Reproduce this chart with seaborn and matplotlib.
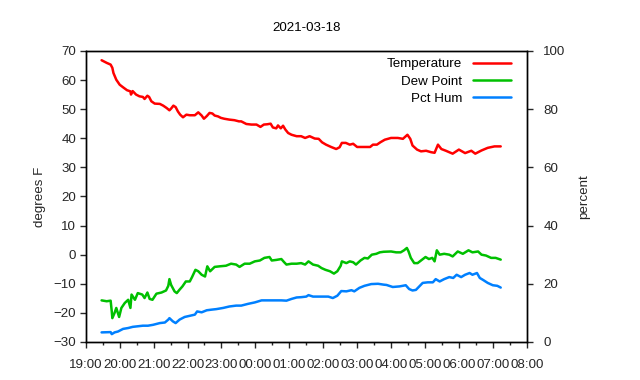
import pandas as pd
import matplotlib
matplotlib.use('Agg')
import matplotlib.pyplot as plt
import matplotlib.dates as mdates
import seaborn as sns

# ── Data (night of 2021-03-18) ───────────────────────────────────
temp_time = [
    "19:28", "19:37", "19:44", "19:47", "19:49", "19:54", "20:00", "20:06",
    "20:13", "20:19", "20:20", "20:23", "20:29", "20:35", "20:41", "20:44",
    "20:49", "20:52", "20:56", "21:02", "21:11", "21:17", "21:23", "21:28",
    "21:31", "21:35", "21:39", "21:43", "21:47", "21:52", "21:58", "22:04",
    "22:13", "22:19", "22:25", "22:29", "22:34", "22:39", "22:44", "22:48",
    "22:54", "22:59", "23:05", "23:14", "23:23", "23:31", "23:35", "23:44",
    "23:53", "00:02", "00:09", "00:15", "00:21", "00:27", "00:31", "00:37",
    "00:40", "00:45", "00:49", "00:53", "00:58", "01:04", "01:13", "01:21",
    "01:28", "01:36", "01:45", "01:52", "01:58", "02:05", "02:14", "02:23",
    "02:29", "02:33", "02:40", "02:47", "02:53", "03:00", "03:07", "03:16",
    "03:23", "03:28", "03:35", "03:41", "03:49", "04:00", "04:12", "04:21",
    "04:29", "04:34", "04:38", "04:46", "04:53", "05:02", "05:11", "05:17",
    "05:23", "05:29", "05:37", "05:49", "06:00", "06:11", "06:22", "06:29",
    "06:40", "06:51", "07:03", "07:14",
]
temp_f = [
    66.8, 65.9, 65.3, 64.2, 62.4, 60.1, 58.4, 57.5,
    56.5, 56.1, 55.0, 56.2, 55.0, 54.4, 54.2, 53.5,
    54.6, 54.2, 52.7, 51.9, 51.8, 51.2, 50.4, 49.6,
    50.2, 51.2, 50.7, 49.2, 48.1, 47.2, 48.1, 47.9,
    47.9, 48.9, 47.8, 46.7, 47.6, 48.7, 48.5, 47.8,
    47.5, 47.0, 46.7, 46.4, 46.2, 45.8, 45.8, 44.9,
    44.7, 44.7, 43.9, 44.7, 44.8, 45.0, 43.7, 43.4,
    44.4, 43.4, 44.3, 43.0, 41.8, 41.2, 40.7, 40.7,
    40.1, 40.7, 39.9, 39.8, 38.6, 37.8, 37.0, 36.3,
    36.9, 38.4, 38.4, 37.8, 38.1, 37.0, 37.0, 37.0,
    37.0, 37.8, 37.8, 38.6, 39.5, 40.1, 40.1, 39.8,
    41.2, 39.8, 37.5, 36.1, 35.5, 35.7, 35.2, 35.0,
    37.8, 36.3, 35.7, 34.7, 36.1, 34.9, 35.7, 34.7,
    35.8, 36.7, 37.2, 37.2,
]

dew_time = [
    "19:28", "19:37", "19:44", "19:46", "19:47", "19:51", "19:54", "19:59",
    "20:03", "20:09", "20:15", "20:19", "20:21", "20:27", "20:32", "20:40",
    "20:44", "20:49", "20:53", "20:58", "21:05", "21:14", "21:22", "21:26",
    "21:28", "21:31", "21:37", "21:41", "21:46", "21:51", "21:57", "22:04",
    "22:08", "22:14", "22:19", "22:25", "22:31", "22:35", "22:40", "22:48",
    "22:57", "23:08", "23:17", "23:26", "23:32", "23:41", "23:50", "23:59",
    "00:08", "00:16", "00:25", "00:29", "00:37", "00:46", "00:51", "00:55",
    "01:04", "01:13", "01:21", "01:28", "01:34", "01:42", "01:51", "01:57",
    "02:04", "02:12", "02:19", "02:25", "02:31", "02:33", "02:41", "02:47",
    "02:53", "02:58", "03:06", "03:13", "03:19", "03:26", "03:34", "03:40",
    "03:47", "04:00", "04:09", "04:17", "04:23", "04:28", "04:31", "04:35",
    "04:41", "04:47", "04:53", "05:01", "05:07", "05:13", "05:17", "05:21",
    "05:26", "05:34", "05:43", "05:49", "05:58", "06:07", "06:17", "06:24",
    "06:34", "06:40", "06:48", "06:57", "07:05", "07:14",
]
dew_f = [
    -15.7, -16.0, -15.8, -19.5, -21.8, -20.0, -18.3, -21.4,
    -18.3, -16.6, -15.5, -18.3, -13.7, -15.5, -13.2, -13.7,
    -14.9, -13.0, -15.2, -15.5, -13.4, -13.0, -12.3, -10.7,
    -8.4, -10.4, -12.6, -13.2, -12.0, -10.9, -9.2, -9.2,
    -7.7, -5.2, -5.7, -6.9, -7.5, -4.0, -5.7, -4.2,
    -4.0, -3.8, -3.1, -3.4, -4.2, -3.1, -3.1, -2.3,
    -2.0, -1.1, -0.8, -2.0, -1.8, -1.5, -2.6, -3.4,
    -3.1, -3.1, -2.9, -3.4, -2.3, -3.4, -3.8, -4.6,
    -5.2, -5.7, -6.5, -5.7, -3.8, -2.3, -2.9, -2.3,
    -2.6, -3.4, -2.0, -1.1, -1.3, 0.0, 0.3, 0.8,
    1.0, 1.1, 0.8, 0.8, 1.5, 2.3, 1.1, -1.1,
    -2.9, -2.9, -2.0, -0.8, -1.5, -1.1, -2.3, 1.5,
    0.0, 0.3, 0.0, -0.6, 1.1, 0.3, 1.5, 0.8,
    1.1, 0.0, -0.3, -1.1, -1.1, -1.7,
]

hum_time = [
    "19:28", "19:44", "19:46", "19:51", "19:57", "20:06", "20:15", "20:23",
    "20:32", "20:41", "20:50", "20:59", "21:11", "21:20", "21:26", "21:28",
    "21:34", "21:39", "21:46", "21:55", "22:04", "22:13", "22:17", "22:25",
    "22:34", "22:42", "22:51", "23:03", "23:14", "23:26", "23:35", "23:47",
    "23:59", "00:11", "00:22", "00:34", "00:46", "00:55", "01:04", "01:13",
    "01:21", "01:30", "01:34", "01:42", "01:51", "02:00", "02:09", "02:17",
    "02:25", "02:32", "02:41", "02:50", "02:55", "03:04", "03:13", "03:25",
    "03:37", "03:47", "03:52", "04:03", "04:15", "04:26", "04:32", "04:38",
    "04:44", "04:50", "04:56", "05:05", "05:14", "05:19", "05:26", "05:34",
    "05:43", "05:50", "05:56", "06:04", "06:11", "06:19", "06:24", "06:32",
    "06:37", "06:43", "06:51", "07:00", "07:08", "07:14",
]
hum_pct = [
    3.3, 3.4, 2.7, 3.3, 3.6, 4.5, 4.8, 5.2,
    5.4, 5.6, 5.6, 5.9, 6.5, 6.7, 7.7, 8.2,
    7.1, 6.5, 7.7, 8.6, 9.0, 9.4, 10.5, 10.2,
    10.9, 11.1, 11.3, 11.7, 12.2, 12.5, 12.5, 13.1,
    13.6, 14.3, 14.3, 14.3, 14.3, 14.2, 14.8, 15.3,
    15.4, 15.6, 16.1, 15.6, 15.6, 15.6, 15.6, 15.1,
    15.9, 17.5, 17.4, 17.8, 17.4, 18.6, 19.3, 19.9,
    20.0, 19.7, 19.6, 18.9, 19.1, 19.5, 18.2, 17.7,
    17.9, 19.1, 20.3, 20.5, 20.5, 21.6, 20.8, 21.6,
    22.3, 22.0, 23.1, 22.3, 23.1, 23.7, 23.1, 23.7,
    22.0, 21.3, 20.3, 19.5, 19.3, 18.7,
]


def to_dt(times):
    # evening belongs to 03-18, early hours roll over to 03-19
    base = pd.Timestamp('2021-03-18')
    out = []
    for t in times:
        hh, mm = map(int, t.split(':'))
        day = 0 if hh >= 12 else 1
        out.append(base + pd.Timedelta(days=day, hours=hh, minutes=mm))
    return pd.Series(out)


temp_df = pd.DataFrame({'time': to_dt(temp_time), 'value': temp_f})
dew_df = pd.DataFrame({'time': to_dt(dew_time), 'value': dew_f})
hum_df = pd.DataFrame({'time': to_dt(hum_time), 'value': hum_pct})

# ── Style (gnuplot look) ─────────────────────────────────────────
sns.set_style('white')
plt.rcParams['font.family'] = ['Liberation Sans', 'DejaVu Sans']
plt.rcParams['font.size'] = 9.6
plt.rcParams['axes.linewidth'] = 1.0
plt.rcParams['text.color'] = '#000000'

FS = 9.6
RED, GREEN, BLUE = '#ff0000', '#00c000', '#0080ff'

fig = plt.figure(figsize=(6.4, 3.8), dpi=100)
ax = fig.add_axes([0.134, 0.1, 0.689, 0.766])
ax2 = ax.twinx()

sns.lineplot(data=temp_df, x='time', y='value', ax=ax, color=RED,
             lw=1.8, label='Temperature', legend=False)
sns.lineplot(data=dew_df, x='time', y='value', ax=ax, color=GREEN,
             lw=1.8, label='Dew Point', legend=False)
sns.lineplot(data=hum_df, x='time', y='value', ax=ax2, color=BLUE,
             lw=1.8, label='Pct Hum', legend=False)

ax.set_xlim(pd.Timestamp('2021-03-18 19:00'), pd.Timestamp('2021-03-19 08:00'))
ax.set_ylim(-30, 70)
ax2.set_ylim(0, 100)
ax.set_yticks(range(-30, 71, 10))
ax2.set_yticks(range(0, 101, 20))

ax.xaxis.set_major_locator(mdates.HourLocator())
ax.xaxis.set_minor_locator(mdates.MinuteLocator(byminute=[30]))
ax.xaxis.set_major_formatter(mdates.DateFormatter('%H:%M'))

ax.tick_params(axis='x', which='major', direction='out', length=4, width=1,
               bottom=True, labelsize=FS, pad=8)
ax.tick_params(axis='x', which='minor', direction='out', length=2, width=1,
               bottom=True)
ax.tick_params(axis='y', direction='out', length=4, width=1, left=True,
               labelsize=FS, pad=3)
ax2.tick_params(axis='y', direction='out', length=4, width=1, right=True,
                labelsize=FS, pad=8)

for a in (ax, ax2):
    for s in a.spines.values():
        s.set_visible(True)
        s.set_color('black')
        s.set_linewidth(1.0)

ax.set_xlabel('')
ax.set_ylabel('degrees F', fontsize=FS, labelpad=5)
ax2.set_ylabel('percent', fontsize=FS, labelpad=9)
ax.set_title('2021-03-18', fontsize=FS, pad=14)

handles = ax.get_lines()[:2] + ax2.get_lines()[:1]
leg = ax2.legend(handles, ['Temperature', 'Dew Point', 'Pct Hum'],
                 loc='upper right', bbox_to_anchor=(0.988, 1.012),
                 markerfirst=False, frameon=False,
                 handlelength=2.8, handletextpad=0.83, labelspacing=0.36,
                 borderaxespad=0.4, fontsize=FS)

plt.savefig('out.png', dpi=100)
